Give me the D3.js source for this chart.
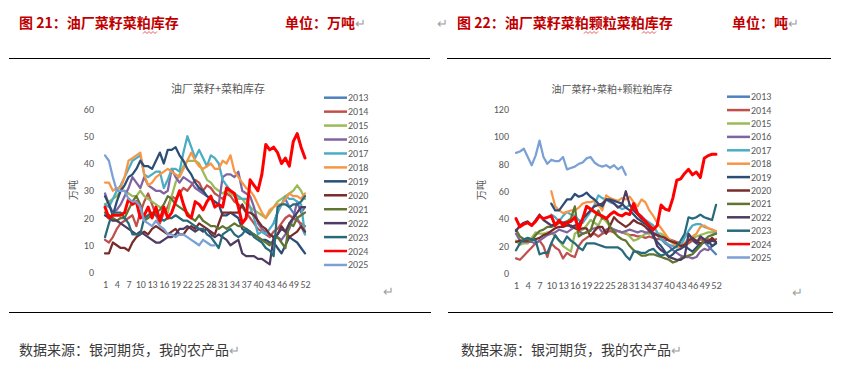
<!DOCTYPE html>
<html>
<head>
<meta charset="utf-8">
<script src="https://cdn.jsdelivr.net/npm/d3@7"></script>
<style>
  html, body { margin: 0; padding: 0; background: #ffffff; }
  svg { display: block; }
</style>
</head>
<body>
<div id="page"></div>
<script>
'use strict';

const years = ['2013', '2014', '2015', '2016', '2017', '2018', '2019', '2020', '2021', '2022', '2023', '2024', '2025'];
const yearColours = ['#4F81BD', '#C0504D', '#9BBB59', '#8064A2', '#4BACC6', '#F79646', '#2C4D75', '#772C2A', '#5F7530', '#4D3B62', '#276A7C', '#FF0000', '#7BA0D5'];
const weeks = d3.range(1, 53);
const weekTicks = [1, 4, 7, 10, 13, 16, 19, 22, 25, 28, 31, 34, 37, 40, 43, 46, 49, 52];
const leftTicks = [0, 10, 20, 30, 40, 50, 60];
const rightTicks = [0, 20, 40, 60, 80, 100, 120];

const _ = null;

// 图21 油厂菜籽+菜粕库存 (万吨)
const left2013 = [_,_,_,_,_,_,_,_,_,_,_,_,_,_,_,_,_,_,_,_,_,_,_,_,_,_,_,_,_,_,_,_,_,_,_,_,_,_,_,_,_,_,_,18,22,25,27,24,22,20,17,14];
const left2014 = [12,11,13,16,18,19,20,21,17,22,26,29,25,21,18,22,24,28,27,29,31,30,32,34,33,30,32,31,29,28,27,29,28,26,25,24,22,20,18,16,15,14,13,15,16,18,20,21,20,19,18,17];
const left2015 = [25,26,27,28,30,30,29,28,28,30,28,27,26,25,24,23,22,28,33,36,39,41,41,41,40,37,34,33,31,30,29,30,29,28,27,27,25,24,23,22,21,20,22,24,26,27,28,29,30,32,30,27];
const left2016 = [29,25,22,23,25,28,31,35,33,31,35,32,31,30,30,29,30,38,35,33,35,34,33,31,30,29,28,27,26,25,35,36,36,35,37,30,29,28,24,18,16,15,14,13,13,12,14,16,20,26,22,24];
const left2017 = [25,24,27,30,32,35,38,41,42,43,36,35,36,37,37,31,34,38,38,37,44,50,46,42,45,42,39,43,42,40,34,32,30,29,28,27,27,24,20,14,15,14,16,18,22,25,28,27,27,26,25,14];
const left2018 = [33,33,30,31,31,35,41,42,43,44,36,32,33,35,36,37,38,37,36,35,38,41,44,41,39,38,39,40,38,38,41,40,43,37,35,33,31,30,28,25,22,20,23,24,25,25,27,29,28,28,27,29];
const left2019 = [28,25,21,26,30,32,35,36,38,41,39,39,38,41,44,40,45,45,46,43,41,38,36,33,31,30,28,27,26,25,21,21,22,21,20,16,15,14,14,13,12,12,11,11,9,7,10,13,12,11,9,7];
const left2020 = [7,7,11,10,9,9,8,11,13,14,15,14,16,17,16,15,14,15,16,14,14,16,17,16,18,17,16,15,14,18,22,22,22,22,22,25,22,22,21,19,17,16,14,13,14,17,15,13,14,15,17,15];
const left2021 = [22,21,20,19,20,20,23,26,28,25,19,20,21,22,23,25,28,27,25,24,23,22,20,19,21,19,18,17,17,16,17,16,17,18,17,17,16,15,14,13,12,11,10,12,13,11,9,18,17,20,21,22];
const left2022 = [21,20,19,19,18,17,16,15,14,15,14,13,12,11,11,12,13,13,14,16,16,17,16,15,16,15,16,14,13,14,13,12,10,11,12,7,6,6,6,5,5,4,3,13,14,16,15,18,20,22,24,24];
const left2023 = [13,18,22,22,22,20,18,14,14,14,20,21,22,21,20,19,20,20,21,20,19,19,18,17,16,16,14,13,11,9,14,15,16,14,13,14,16,15,13,12,11,9,8,6,24,25,25,24,25,25,26,28];
const left2024 = [24,20,21,21,21,22,27,25,26,20,21,24,20,24,19,24,20,22,26,30,25,21,20,26,25,23,26,28,24,25,24,31,30,29,24,18,20,34,32,30,36,47,45,46,44,40,42,39,48,51,46,42];
const left2025 = [43,41,35,30,30,30,27,26,26,24,19,18,17,19,17,16,14,14,13,14,14,13,12,11,10,12,11,10,10,_,_,_,_,_,_,_,_,_,_,_,_,_,_,_,_,_,_,_,_,_,_,_];

// 图22 油厂菜籽+菜粕+颗粒粕库存 (吨)
const right2013 = [_,_,_,_,_,_,_,_,_,_,_,_,_,_,_,_,_,_,_,_,_,_,_,_,_,_,_,_,_,_,_,_,_,_,_,_,_,_,_,_,_,_,_,22,25,24,22,21,23,20,17,14];
const right2014 = [11,10,13,16,19,22,24,20,12,22,19,17,11,15,13,12,20,24,26,28,29,27,29,30,31,30,31,30,29,28,28,27,27,26,27,26,25,25,24,25,24,23,22,21,22,24,23,25,24,25,24,25];
const right2015 = [24,21,22,22,26,30,29,29,30,30,27,24,20,18,16,29,31,32,35,39,37,35,41,38,34,32,31,30,30,27,24,25,27,29,29,29,29,29,27,25,23,21,20,22,25,26,27,28,29,30,30,29];
const right2016 = [29,24,23,23,23,22,24,26,28,29,30,32,31,30,32,34,31,29,30,32,33,34,30,32,33,32,31,30,31,32,31,30,31,30,30,30,28,25,22,20,17,15,13,12,12,11,12,16,18,17,20,22];
const right2017 = [_,_,_,_,_,_,_,_,_,43,41,38,42,45,43,42,39,37,41,45,50,57,55,54,52,51,49,47,48,50,48,44,42,39,37,35,30,25,23,21,20,19,20,26,31,35,36,36,34,33,32,30];
const right2018 = [_,_,_,_,_,_,_,_,_,60,49,46,44,45,46,46,48,51,52,52,53,50,46,57,55,54,53,55,54,56,52,49,54,52,46,42,37,33,29,25,22,20,19,22,24,27,29,34,35,33,32,31];
const right2019 = [_,_,_,_,_,_,_,_,_,51,46,46,50,54,54,58,56,57,59,56,54,51,49,54,54,53,52,51,48,46,43,40,38,36,34,27,23,20,16,12,14,17,18,20,18,16,19,22,23,24,20,22];
const right2020 = [23,24,24,24,25,25,26,28,29,31,33,34,34,35,35,33,32,33,33,27,31,34,34,29,35,41,38,36,34,36,39,37,36,34,31,29,28,27,26,24,23,22,20,21,24,26,24,22,23,23,26,23];
const right2021 = [32,27,25,25,24,28,31,32,34,34,35,37,37,38,40,49,27,29,30,31,40,46,40,41,34,30,27,25,24,20,17,15,13,13,14,14,13,12,11,10,8,9,11,12,13,14,17,20,24,27,28,29];
const right2022 = [31,35,37,38,35,39,43,39,37,35,36,38,37,37,34,35,36,40,43,46,49,50,51,54,53,51,48,50,60,50,46,43,40,38,33,29,20,17,15,12,11,10,10,12,29,25,22,27,25,22,24,23];
const right2023 = [17,22,25,26,25,24,14,15,15,22,28,24,22,27,24,22,19,17,22,22,22,21,20,19,19,19,19,17,13,10,16,16,15,15,17,18,15,13,14,16,18,20,24,29,41,40,41,43,41,40,39,50];
const right2024 = [40,34,36,37,35,38,42,40,41,42,35,39,35,37,38,41,32,40,49,47,45,43,42,40,43,45,43,42,44,43,51,44,41,38,35,32,35,50,47,46,55,68,69,73,76,72,74,70,84,86,87,87];
const right2025 = [88,89,91,85,79,86,97,85,80,83,82,82,85,76,77,78,80,81,84,85,81,79,78,79,77,79,76,78,72,_,_,_,_,_,_,_,_,_,_,_,_,_,_,_,_,_,_,_,_,_,_,_];

const leftSeries = [left2013, left2014, left2015, left2016, left2017, left2018, left2019, left2020, left2021, left2022, left2023, left2024, left2025];
const rightSeries = [right2013, right2014, right2015, right2016, right2017, right2018, right2019, right2020, right2021, right2022, right2023, right2024, right2025];

const grey = '#595959';
const cjk = '"Noto Sans CJK SC", "Noto Sans", sans-serif';
const latin = 'Carlito, Calibri, "Liberation Sans", sans-serif';

const svg = d3.select('#page')
    .append('svg')
    .attr('width', 841)
    .attr('height', 372)
    .style('font-family', cjk);

svg.append('rect')
    .attr('width', 841)
    .attr('height', 372)
    .attr('fill', '#ffffff');

// page text around the two charts
function heading(x, label, unitX, unit, returnBefore) {
    if (returnBefore) {
        svg.append('text').attr('x', returnBefore).attr('y', 28)
            .attr('font-size', 13).attr('fill', '#a0a0a0').text('↵');
    }
    svg.append('text').attr('x', x).attr('y', 28)
        .attr('font-size', 14).attr('font-weight', 700).attr('fill', '#C00000')
        .text(label);
    const u = svg.append('text').attr('x', unitX).attr('y', 28)
        .attr('font-size', 14).attr('font-weight', 700).attr('fill', '#C00000');
    u.append('tspan').text(unit);
    u.append('tspan').attr('fill', '#a0a0a0').attr('font-weight', 400).attr('font-size', 13).text('↵');
}

heading(19, '图 21：油厂菜籽菜粕库存', 285, '单位：万吨', null);
heading(457, '图 22：油厂菜籽菜粕颗粒菜粕库存', 732, '单位：吨', 437);

// spell-check squiggles under 粕
function squiggle(x0, x1) {
    const pts = [];
    for (let x = x0, i = 0; x <= x1; x += 2, i++) {
        pts.push([x, i % 2 ? 31.5 : 33.5]);
    }
    svg.append('path').attr('d', d3.line()(pts))
        .attr('fill', 'none').attr('stroke', '#e03030').attr('stroke-width', 0.8);
}
squiggle(143, 157);
squiggle(584, 598);
squiggle(642, 656);

[[9, 430, 58.5], [447, 831, 58.5], [9, 431, 312.5], [448, 833, 312.5]].forEach(function (r) {
    svg.append('line')
        .attr('x1', r[0]).attr('x2', r[1]).attr('y1', r[2]).attr('y2', r[2])
        .attr('stroke', '#000000').attr('stroke-width', 1.2);
});

[19, 461].forEach(function (x) {
    const t = svg.append('text').attr('x', x).attr('y', 355)
        .attr('font-size', 14).attr('fill', '#3a3a3a');
    t.append('tspan').text('数据来源：银河期货，我的农产品');
    t.append('tspan').attr('fill', '#a0a0a0').attr('font-size', 13).text('↵');
});

[[383, 296], [792, 297]].forEach(function (p) {
    svg.append('text').attr('x', p[0]).attr('y', p[1])
        .attr('font-size', 13).attr('fill', '#a0a0a0').text('↵');
});

function drawChart(cfg) {
    const xScale = d3.scalePoint()
        .domain(weeks)
        .range([cfg.x0, cfg.x1]);

    const yScale = d3.scaleLinear()
        .domain([0, cfg.yMax])
        .range([cfg.yBottom, cfg.yTop]);

    const yAxis = d3.axisLeft(yScale)
        .tickValues(cfg.yTicks)
        .tickSize(0)
        .tickPadding(0);

    svg.append('g')
        .attr('transform', `translate(${cfg.yLabelX},0)`)
        .call(yAxis)
        .call(function (g) {
            g.select('.domain').remove();
            g.selectAll('text')
                .attr('fill', grey)
                .attr('font-size', 10)
                .attr('font-family', latin);
        });

    const xAxis = d3.axisBottom(xScale)
        .tickValues(weekTicks)
        .tickSize(0)
        .tickPadding(0);

    svg.append('g')
        .attr('transform', `translate(0,${cfg.xLabelY})`)
        .call(xAxis)
        .call(function (g) {
            g.select('.domain').remove();
            g.selectAll('text')
                .attr('fill', grey)
                .attr('font-size', cfg.xFont)
                .attr('font-family', latin);
        });

    svg.append('text')
        .attr('x', cfg.titleX)
        .attr('y', 93)
        .attr('text-anchor', 'middle')
        .attr('font-size', cfg.titleFont)
        .attr('fill', grey)
        .text(cfg.title);

    svg.append('text')
        .attr('transform', `translate(${cfg.unitX},190) rotate(-90)`)
        .attr('text-anchor', 'middle')
        .attr('font-size', 10)
        .attr('fill', grey)
        .text('万吨');

    const line = d3.line()
        .defined(function (d) { return d !== null; })
        .x(function (d, i) { return xScale(weeks[i]); })
        .y(function (d) { return yScale(d); });

    const chart = svg.append('g');
    cfg.series.forEach(function (values, k) {
        chart.append('path')
            .datum(values)
            .attr('d', line)
            .attr('fill', 'none')
            .attr('stroke', yearColours[k])
            .attr('stroke-width', years[k] === '2024' ? 3 : 2.25)
            .attr('stroke-linejoin', 'round')
            .attr('stroke-linecap', 'round');
    });

    const legend = svg.append('g');
    years.forEach(function (year, k) {
        const y = cfg.legendY + k * cfg.legendStep;
        legend.append('line')
            .attr('x1', cfg.legendX).attr('x2', cfg.legendX + 23)
            .attr('y1', y).attr('y2', y)
            .attr('stroke', yearColours[k])
            .attr('stroke-width', 2.5);
        legend.append('text')
            .attr('x', cfg.legendX + 24)
            .attr('y', y + 3.5)
            .attr('font-size', 10)
            .attr('fill', grey)
            .attr('font-family', latin)
            .text(year);
    });
}

drawChart({
    series: leftSeries,
    x0: 105, x1: 305,
    yMax: 60, yTicks: leftTicks,
    yBottom: 272.5, yTop: 109,
    yLabelX: 94, xLabelY: 281, xFont: 10,
    title: '油厂菜籽+菜粕库存', titleX: 218, titleFont: 11,
    unitX: 77,
    legendX: 324, legendY: 97.7, legendStep: 13.94
});

drawChart({
    series: rightSeries,
    x0: 516, x1: 716,
    yMax: 120, yTicks: rightTicks,
    yBottom: 273.5, yTop: 109,
    yLabelX: 509, xLabelY: 282, xFont: 10.5,
    title: '油厂菜籽+菜粕+颗粒粕库存', titleX: 612, titleFont: 10,
    unitX: 485,
    legendX: 727, legendY: 96.7, legendStep: 13.4
});
</script>
</body>
</html>
